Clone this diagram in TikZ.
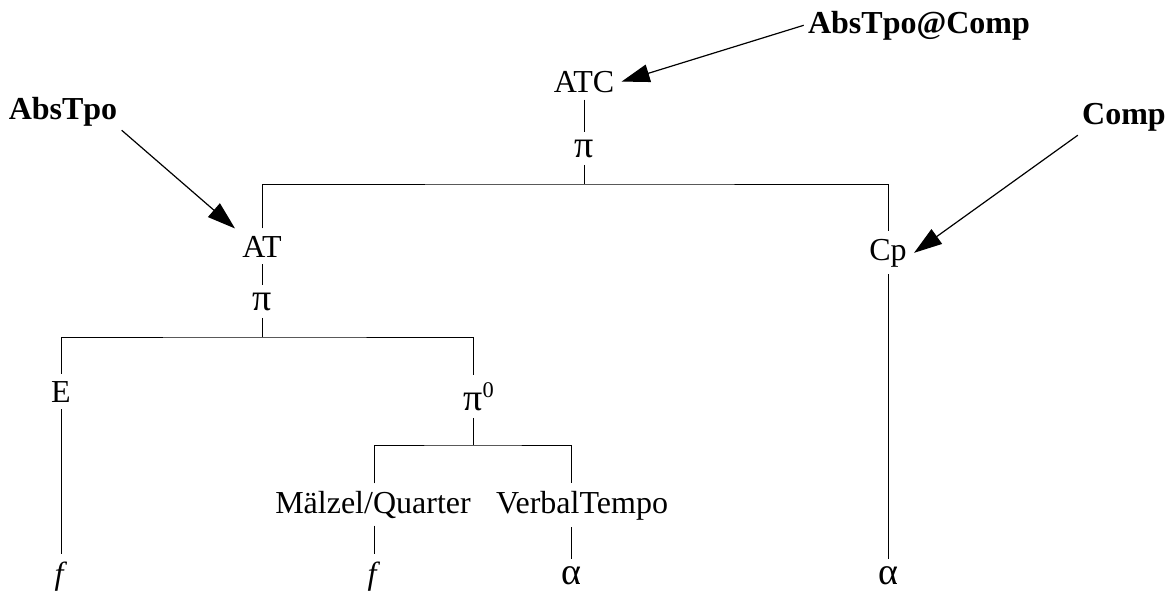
\documentclass[tikz,border=0pt]{standalone}
\usepackage{fontspec}
\setmainfont{Liberation Serif}
\usetikzlibrary{arrows.meta}

\newcommand{\gk}[1]{{\fontsize{19}{22}\selectfont #1}}

\tikzset{
    lab/.style={anchor=base, inner sep=3.5pt, font=\fontsize{16}{19}\selectfont},
    tag/.style={anchor=base, inner sep=2pt, font=\fontsize{16}{19}\selectfont\bfseries},
    pointer/.style={-{Triangle[length=14pt, width=9pt]}, line width=0.6pt},
    branch/.style={line width=0.5pt}
}

\begin{document}
\begin{tikzpicture}[x=0.5pt, y=-0.5pt]
\useasboundingbox (0,0) rectangle (1173,595);

% Top level: ATC
\node[lab] (ATC) at (584,92) {ATC};
\node[lab] (piA) at (584,157) {\gk{π}};
\coordinate (barA) at (584,184);

% Second level
\node[lab] (AT) at (262,257) {AT};
\node[lab] (piB) at (262,310) {\gk{π}};
\coordinate (barB) at (262,337);
\node[lab] (Cp) at (888,260) {Cp};

% Third level
\node[lab] (E) at (61,402) {E};
\node[lab] (piZero) at (473,410) {\gk{π}\rlap{\textsuperscript{0}}};
\coordinate (barC) at (473,445);

% Fourth level
\node[lab] (Malzel) at (373,513) {Mälzel/Quarter};
\node[lab] (Verbal) at (582,513) {VerbalTempo};

% Leaves
\node[lab] (fE) at (61,584) {\textit{f}};
\node[lab] (fM) at (374,584) {\textit{f}};
\node[lab] (alphaV) at (571,584) {\gk{α}};
\node[lab] (alphaC) at (888,584) {\gk{α}};

% Tags
\node[tag] (absTpo) at (63,119) {AbsTpo};
\node[tag] (absComp) at (919,33) {AbsTpo@Comp};
\node[tag] (comp) at (1124,124) {Comp};

% Tree branches
\draw[branch] (ATC) -- (piA) -- (barA);
\draw[branch] (AT) |- (barA) -| (Cp);
\draw[branch] (AT) -- (piB) -- (barB);
\draw[branch] (E) |- (barB) -| (piZero);
\draw[branch] (piZero) -- (barC);
\draw[branch] (Malzel.north -| fM) |- (barC) -| (Verbal.north -| alphaV);
\draw[branch] (E) -- (fE);
\draw[branch] (Malzel.south -| fM) -- (fM);
\draw[branch] (Verbal.south -| alphaV) -- (alphaV);
\draw[branch] (Cp) -- (alphaC);

% Arrows from the tags
\draw[pointer] (absComp.west) -- (ATC.east);
\draw[pointer] (absTpo.south east) -- (AT.north west);
\draw[pointer] (comp.south west) -- (Cp.east);

\end{tikzpicture}
\end{document}
